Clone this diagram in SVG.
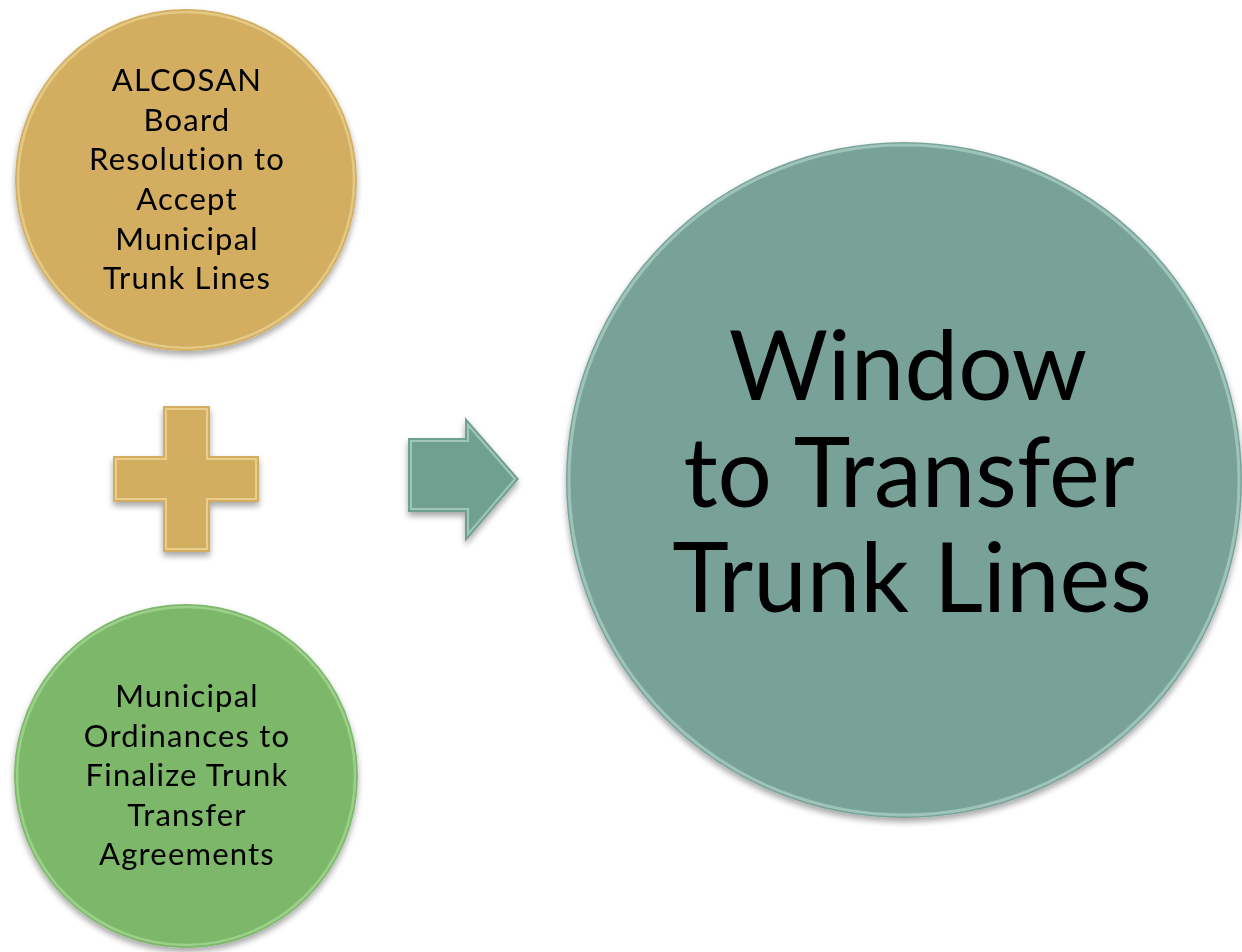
<svg xmlns="http://www.w3.org/2000/svg" width="1242" height="952" viewBox="0 0 1242 952">
<defs>
<filter id="sh" x="-10%" y="-10%" width="120%" height="125%">
<feGaussianBlur in="SourceAlpha" stdDeviation="3"/>
<feOffset dx="0" dy="4" result="b"/>
<feComponentTransfer><feFuncA type="linear" slope="0.35"/></feComponentTransfer>
<feMerge><feMergeNode/><feMergeNode in="SourceGraphic"/></feMerge>
</filter>
</defs>
<style>
.lbl{font-family:Lato,"Liberation Sans",sans-serif;fill:#000;text-anchor:middle}
.sm{font-size:31px;letter-spacing:1.2px}
.bg{font-size:96px}
</style>
<rect width="1242" height="952" fill="#fff"/>
<g id="node-board" filter="url(#sh)">
<circle cx="186" cy="180" r="171" fill="#D3AE60"/>
<circle cx="186" cy="180" r="168" fill="none" stroke="#E8CF8E" stroke-width="2.5" opacity="0.8"/>
<text class="lbl sm"><tspan x="187" y="91">ALCOSAN</tspan><tspan x="187" y="131">Board</tspan><tspan x="187" y="170">Resolution to</tspan><tspan x="187" y="210">Accept</tspan><tspan x="187" y="250">Municipal</tspan><tspan x="187" y="289">Trunk Lines</tspan></text>
</g>
<g id="node-ordinances" filter="url(#sh)">
<circle cx="186" cy="776" r="172" fill="#7DB86A"/>
<circle cx="186" cy="776" r="169" fill="none" stroke="#A3D492" stroke-width="2.5" opacity="0.8"/>
<text class="lbl sm"><tspan x="187" y="707">Municipal</tspan><tspan x="187" y="747">Ordinances to</tspan><tspan x="187" y="786">Finalize Trunk</tspan><tspan x="187" y="826">Transfer</tspan><tspan x="187" y="865">Agreements</tspan></text>
</g>
<g id="node-plus" filter="url(#sh)">
<path d="M163 406 H210 V456 H259 V502 H210 V552 H163 V502 H113 V456 H163 Z" fill="#D3AE60"/>
<path d="M166 409 H207 V459 H256 V499 H207 V549 H166 V499 H116 V459 H166 Z" fill="none" stroke="#F2DA9C" stroke-width="2" opacity="0.7"/>
</g>
<g id="connectors">
<g id="arrow" filter="url(#sh)">
<path d="M408 438 H465 V417 L519 479 L465 542 V512 H408 Z" fill="#70A090"/>
<path d="M411 441 H468 V425 L515 479 L468 534 V509 H411 Z" fill="none" stroke="#B5D6CB" stroke-width="2" opacity="0.7"/>
</g>
</g>
<g id="node-window" filter="url(#sh)">
<circle cx="904" cy="480" r="338" fill="#78A298"/>
<circle cx="904" cy="480" r="335" fill="none" stroke="#A8CCC2" stroke-width="3" opacity="0.8"/>
<text class="lbl bg"><tspan x="908" y="400">Window</tspan><tspan x="909" y="507">to Transfer</tspan><tspan x="912" y="612">Trunk Lines</tspan></text>
</g>
</svg>
